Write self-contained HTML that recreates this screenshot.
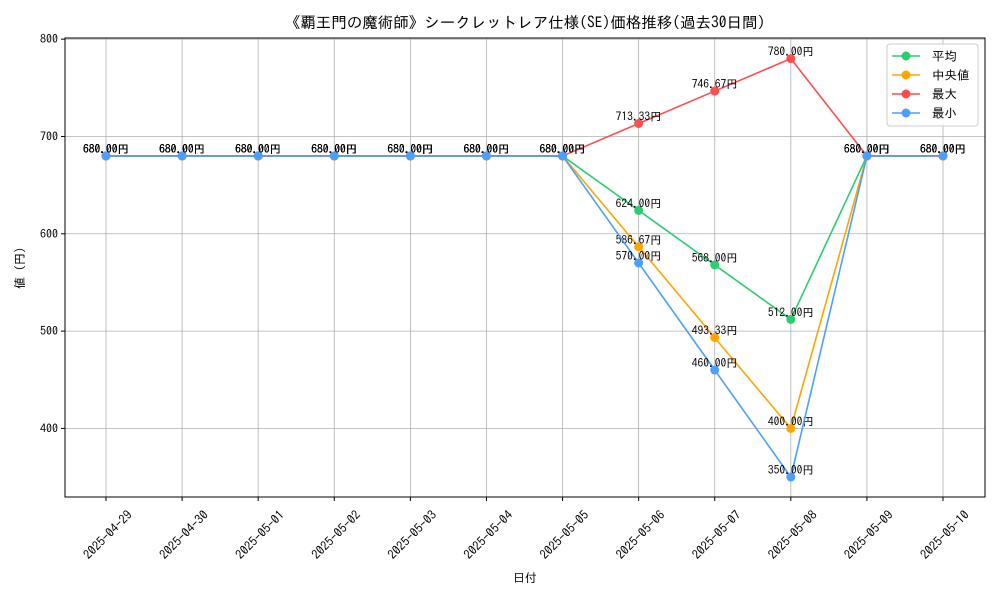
<!DOCTYPE html>
<html><head><meta charset="utf-8">
<style>
body{margin:0;background:#fff;}
svg text{font-family:"IPAGothic","Noto Sans CJK JP",sans-serif;fill:#000;}
</style></head>
<body>
<svg id="chart" width="1000" height="600" xmlns="http://www.w3.org/2000/svg">
<rect width="1000" height="600" fill="#fff"/>
<text x="525" y="28" font-size="15.5" text-anchor="middle">《覇王門の魔術師》シークレットレア仕様(SE)価格推移(過去30日間)</text>
<g id="grid"></g>
<g id="series"></g>
<g id="axes"></g>
<rect x="65" y="38" width="920" height="459" fill="none" stroke="#000" stroke-width="1"/>
<text x="525" y="582" font-size="12" text-anchor="middle">日付</text>
<text x="24" y="268" font-size="12" text-anchor="middle" transform="rotate(-90 24 268)">値 (円)</text>
<g id="legend">
<rect x="887" y="44" width="91" height="82" rx="3" fill="#fff" fill-opacity="0.85" stroke="#ccc"/>
</g>
</svg>
<script>
const categories=["2025-04-29","2025-04-30","2025-05-01","2025-05-02","2025-05-03","2025-05-04","2025-05-05","2025-05-06","2025-05-07","2025-05-08","2025-05-09","2025-05-10"];
const avgValues=[680,680,680,680,680,680,680,624,568,512,680,680];
const medianValues=[680,680,680,680,680,680,680,586.67,493.33,400,680,680];
const maxValues=[680,680,680,680,680,680,680,713.33,746.67,780,680,680];
const minValues=[680,680,680,680,680,680,680,570,460,350,680,680];
const yTicks=[400,500,600,700,800];
const seriesNames=["平均","中央値","最大","最小"];
const NS="http://www.w3.org/2000/svg";
const L=65,R=985,T=38,B=497,yMin=329.5,yMax=801.2;
const xS=i=>106+i*(943-106)/(categories.length-1);
const yS=v=>B-(v-yMin)/(yMax-yMin)*(B-T);
function mk(tag,attrs,parent){const e=document.createElementNS(NS,tag);for(const k in attrs)e.setAttribute(k,attrs[k]);parent.appendChild(e);return e;}
const grid=document.getElementById('grid'),axes=document.getElementById('axes'),ser=document.getElementById('series');
categories.forEach((c,i)=>{const x=xS(i);
 const g=mk('line',{x1:x,x2:x,y1:T,y2:B,stroke:'#b0b0b0','stroke-width':0.8},grid);
 
 
 mk('line',{x1:x,x2:x,y1:B,y2:B+4,stroke:'#000'},axes);
 const cx=x+2,cy=B+38;
 const t=mk('text',{x:cx,y:cy+4,'font-size':12.5,'text-anchor':'middle',transform:`rotate(-45 ${cx} ${cy})`},axes);
 t.textContent=c;
 
 
});
yTicks.forEach(v=>{const y=yS(v);
 const g=mk('line',{x1:L,x2:R,y1:y,y2:y,stroke:'#b0b0b0','stroke-width':0.8},grid);
 
 
 mk('line',{x1:L-4,x2:L,y1:y,y2:y,stroke:'#000'},axes);
 const t=mk('text',{x:L-7,y:y+4,'font-size':12,'text-anchor':'end'},axes);
 t.textContent=v;
 
 
});
const allSeries=[avgValues,medianValues,maxValues,minValues];
const colors=["#2ecc71","#ffa500","#ff4d4d","#4d9fff"];
const keys=["avg","median","max","min"];
allSeries.forEach((vals,s)=>{
 const p=mk('polyline',{points:vals.map((v,i)=>xS(i)+','+yS(v)).join(' '),fill:'none',stroke:colors[s],'stroke-width':1.6},ser);
 
 
 vals.forEach((v,i)=>{
  const c=mk('circle',{cx:xS(i),cy:yS(v),r:4.5,fill:colors[s]},ser);
  
  
  const t=mk('text',{x:xS(i),y:yS(v)-3,'font-size':11.5,'text-anchor':'middle'},ser);
  t.textContent=v.toFixed(2)+'円';
  
  
 });
});
const lg=document.getElementById('legend');
seriesNames.forEach((n,s)=>{const y=56+s*19;
 const l=mk('line',{x1:892,x2:920,y1:y,y2:y,stroke:colors[s],'stroke-width':1.6},lg);
 
 
 mk('circle',{cx:906,cy:y,r:4.5,fill:colors[s]},lg);
 const t=mk('text',{x:932,y:y+4.5,'font-size':12.5},lg);
 t.textContent=n;
 
 
});
</script>
</body></html>
